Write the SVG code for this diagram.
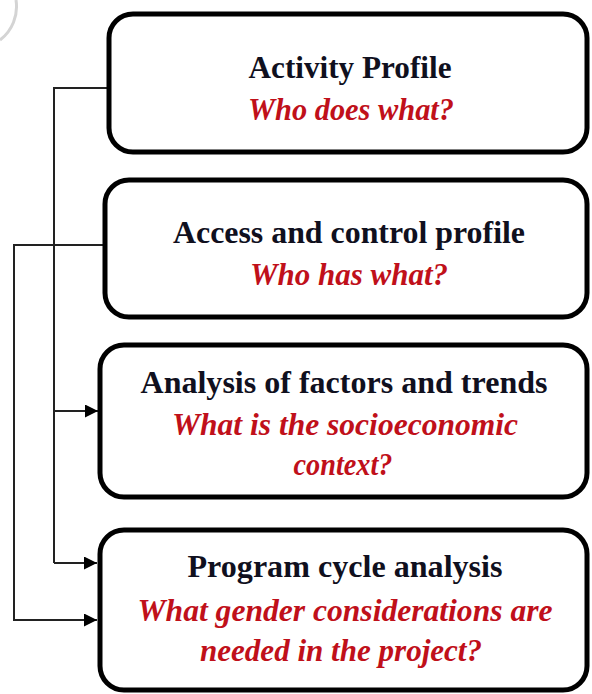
<svg xmlns="http://www.w3.org/2000/svg" width="592" height="694" viewBox="0 0 592 694">
<style>
.box{fill:#ffffff;stroke:#000000;stroke-width:5}
.t{font-family:"Liberation Serif","Times New Roman",serif;font-size:31px;font-weight:bold;fill:#10101e;text-anchor:middle}
.q{font-family:"Liberation Serif","Times New Roman",serif;font-size:31px;font-weight:bold;font-style:italic;fill:#c0101a;text-anchor:middle}
.c{fill:none;stroke:#222222;stroke-width:2}
</style>
<defs>
<marker id="arr" markerUnits="userSpaceOnUse" markerWidth="14" markerHeight="13" refX="13" refY="6.5" orient="auto">
<path d="M0,0 L13,6.5 L0,13 Z" fill="#000000"/>
</marker>
</defs>
<rect width="592" height="694" fill="#ffffff"/>
<path d="M16,0 A42,42 0 0 1 0,40" fill="none" stroke="#d4d4d4" stroke-width="3"/>
<g id="connectors">
<path class="c" d="M107,88 H54 V563"/>
<path class="c" d="M54,411 H98" marker-end="url(#arr)"/>
<path class="c" d="M54,563 H97" marker-end="url(#arr)"/>
<path class="c" d="M103,245 H14 V620 H97" marker-end="url(#arr)"/>
</g>
<g id="node-activity">
<rect class="box" x="109" y="14" width="478" height="138" rx="24"/>
<text class="t" x="350" y="78" textLength="203" lengthAdjust="spacingAndGlyphs">Activity Profile</text>
<text class="q" x="351" y="120" textLength="206" lengthAdjust="spacingAndGlyphs">Who does what?</text>
</g>
<g id="node-access">
<rect class="box" x="105" y="180" width="482" height="137" rx="24"/>
<text class="t" x="349" y="243" textLength="352" lengthAdjust="spacingAndGlyphs">Access and control profile</text>
<text class="q" x="349" y="285" textLength="198" lengthAdjust="spacingAndGlyphs">Who has what?</text>
</g>
<g id="node-analysis">
<rect class="box" x="100" y="345" width="487" height="152" rx="24"/>
<text class="t" x="344" y="393" textLength="407" lengthAdjust="spacingAndGlyphs">Analysis of factors and trends</text>
<text class="q" x="345" y="435" textLength="346" lengthAdjust="spacingAndGlyphs">What is the socioeconomic</text>
<text class="q" x="343" y="475" textLength="99" lengthAdjust="spacingAndGlyphs">context?</text>
</g>
<g id="node-program">
<rect class="box" x="100" y="530" width="487" height="160" rx="24"/>
<text class="t" x="345" y="577" textLength="315" lengthAdjust="spacingAndGlyphs">Program cycle analysis</text>
<text class="q" x="345" y="621" textLength="415" lengthAdjust="spacingAndGlyphs">What gender considerations are</text>
<text class="q" x="341" y="661" textLength="282" lengthAdjust="spacingAndGlyphs">needed in the project?</text>
</g>
</svg>
